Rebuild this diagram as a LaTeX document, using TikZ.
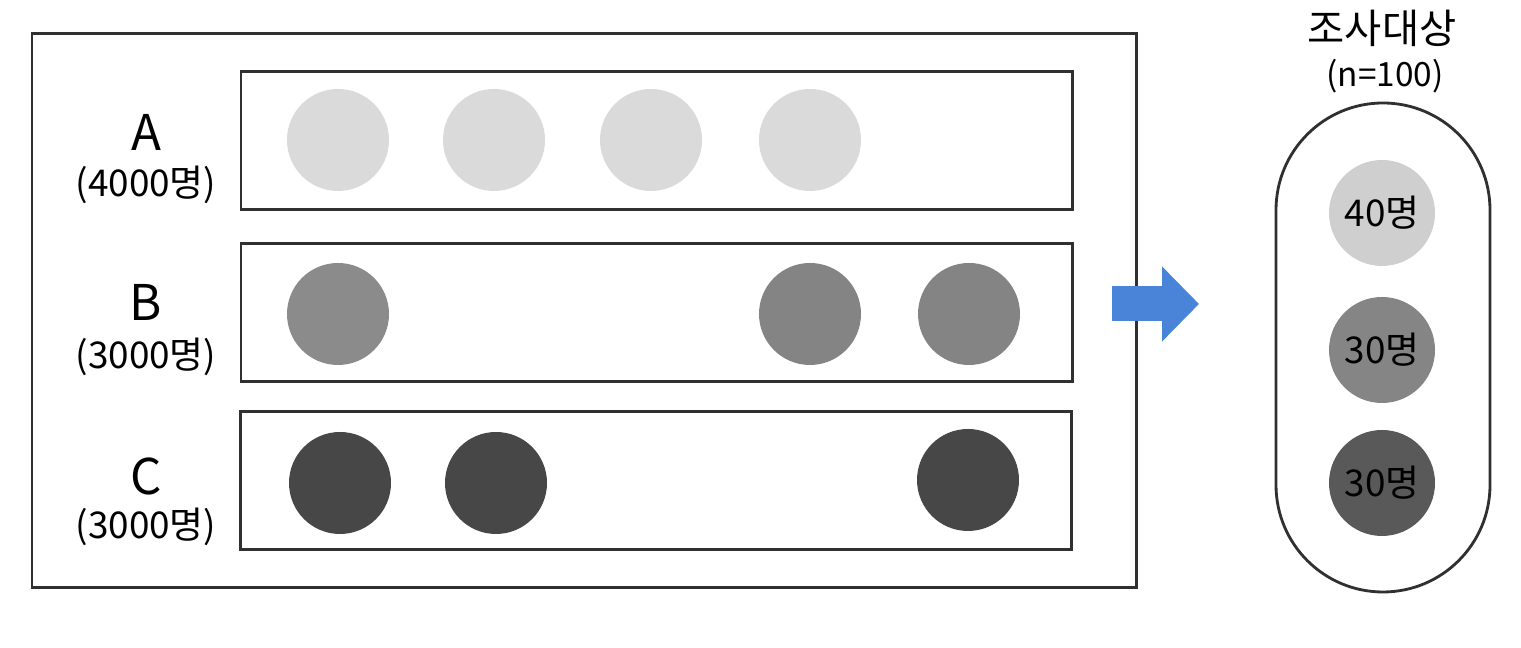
\documentclass[tikz,border=0pt]{standalone}
\usepackage{fontspec}
\setmainfont{Noto Sans CJK KR}
\usetikzlibrary{arrows.meta}
\definecolor{lightdot}{HTML}{D9DAD9}
\definecolor{middot}{HTML}{8B8B8B}
\definecolor{darkdot}{HTML}{474747}
\definecolor{linegray}{HTML}{303030}
\definecolor{arrowblue}{HTML}{4A84D8}

\begin{document}
\begin{tikzpicture}[
  box/.style={draw=linegray, line width=0.85pt, inner sep=0pt},
  rowbox/.style={box, minimum width=8.31cm, minimum height=1.38cm},
  dot/.style={circle, inner sep=0pt, minimum size=1.02cm},
  bigdot/.style={circle, inner sep=0pt, minimum size=1.06cm, font=\fontsize{10.5}{12}\selectfont},
  letter/.style={font=\fontsize{14}{16}\selectfont},
  count/.style={font=\fontsize{10.5}{12}\selectfont}
]
\useasboundingbox (0,0) rectangle (15.21,-6.48);

% outer frame and the three rows
\node[box, minimum width=11.04cm, minimum height=5.54cm] (frame) at (5.84,-3.11) {};
\node[rowbox] (rowA) at (6.565,-1.405) {};
\node[rowbox] (rowB) at (6.565,-3.13) {};
\node[rowbox] (rowC) at (6.56,-4.805) {};

% row labels
\node[letter] (labA) at (1.46,-1.32) {A};
\node[count] (numA) at (1.46,-1.85) {(4000명)};
\node[letter] (labB) at (1.46,-3.02) {B};
\node[count] (numB) at (1.46,-3.57) {(3000명)};
\node[letter] (labC) at (1.46,-4.76) {C};
\node[count] (numC) at (1.46,-5.27) {(3000명)};

% dots in row A
\node[dot, fill=lightdot] (a1) at (3.38,-1.40) {};
\node[dot, fill=lightdot] (a2) at (4.94,-1.40) {};
\node[dot, fill=lightdot] (a3) at (6.51,-1.40) {};
\node[dot, fill=lightdot] (a4) at (8.10,-1.40) {};
% dots in row B
\node[dot, fill=middot] (b1) at (3.38,-3.14) {};
\node[dot, fill=middot!95!black] (b2) at (8.10,-3.14) {};
\node[dot, fill=middot!95!black] (b3) at (9.69,-3.14) {};
% dots in row C
\node[dot, fill=darkdot] (c1) at (3.40,-4.83) {};
\node[dot, fill=darkdot] (c2) at (4.96,-4.83) {};
\node[dot, fill=darkdot] (c3) at (9.68,-4.80) {};

% arrow
\coordinate (arrS) at (11.12,-3.04);
\coordinate (arrE) at (11.99,-3.04);
\draw[arrowblue, line width=0.35cm, -{Triangle[length=0.37cm,width=0.73cm]}] (arrS) -- (arrE);

% sample
\node (title) at (13.82,-0.28) {\fontsize{11.5}{13}\selectfont 조사대상};
\node (size) at (13.85,-0.76) {\fontsize{9.5}{11}\selectfont (n=100)};
\node[box, line width=0.8pt, rounded corners=1.07cm, minimum width=2.14cm, minimum height=4.89cm] (sample) at (13.83,-3.475) {};
\node[bigdot, fill=lightdot!95!black] (s1) at (13.82,-2.13) {40명};
\node[bigdot, fill=middot!105!white] (s2) at (13.82,-3.50) {30명};
\node[bigdot, fill=darkdot!90!white] (s3) at (13.82,-4.83) {30명};
\end{tikzpicture}
\end{document}
